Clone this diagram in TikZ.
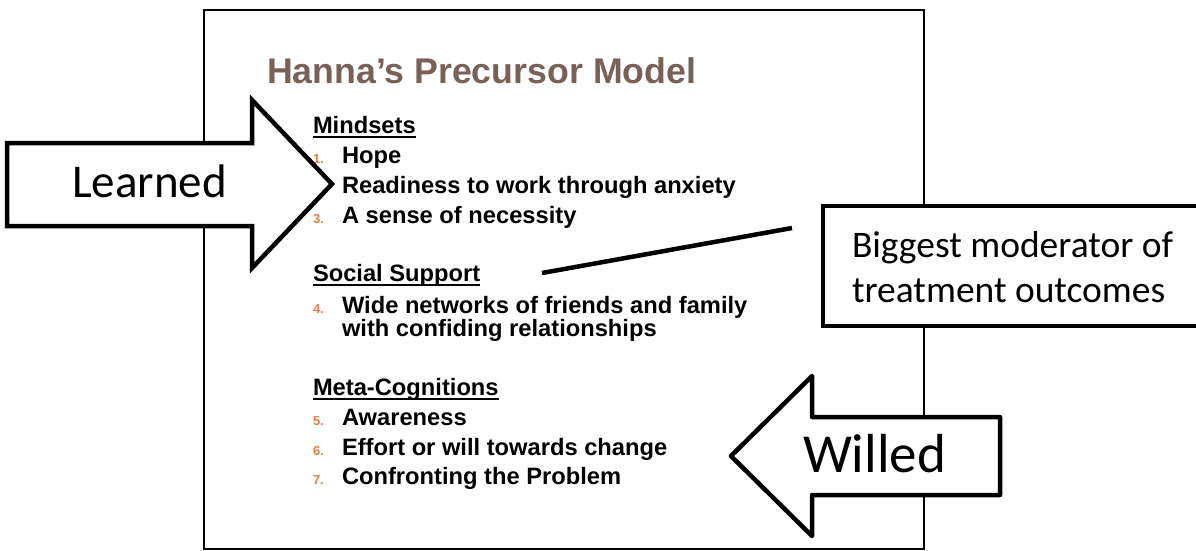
\documentclass[tikz,border=0pt]{standalone}
\usepackage{fontspec}
\setmainfont{Liberation Sans}
\newfontfamily\handfont{Carlito}
\definecolor{titlebrown}{RGB}{121,97,87}
\definecolor{numorange}{RGB}{226,128,72}
\newcommand{\ulx}[1]{\setbox0\hbox{#1}\rlap{\rule[-4.5pt]{\wd0}{2pt}}\box0}
\begin{document}
\begin{tikzpicture}[x=1pt,y=-1pt,
  every node/.style={inner sep=0pt,outer sep=0pt},
  titletxt/.style={anchor=base west,text=titlebrown,font=\fontsize{35.7}{40}\selectfont\bfseries},
  itemtxt/.style={anchor=base west,font=\fontsize{23.7}{28}\selectfont\bfseries},
  numtxt/.style={anchor=base west,text=numorange,font=\fontsize{13}{15}\selectfont\bfseries},
  handtxt/.style={anchor=base west,font=\handfont\fontsize{#1}{#1}\selectfont},
  bigarrow/.style={draw=black,fill=white,line width=4.5pt,line join=miter},
  calloutbox/.style={draw=black,fill=white,line width=4.5pt},
  framebox/.style={draw=black,line width=2pt},
  linkline/.style={draw=black,line width=4.5pt}]
\useasboundingbox (0,0) rectangle (1196,550);
% slide frame
\draw[framebox] (204,10) rectangle (924,549);
% title
\node[titletxt] (title) at (267,83) {Hanna’s Precursor Model};
% Mindsets
\node[itemtxt] (h1) at (313,133) {\ulx{Mindsets}};
\node[numtxt] (n1) at (313,163) {1.};
\node[itemtxt] (i1) at (342,163) {Hope};
\node[numtxt] (n2) at (313,193) {2.};
\node[itemtxt] (i2) at (342,193) {Readiness to work through anxiety};
\node[numtxt] (n3) at (313,223) {3.};
\node[itemtxt] (i3) at (342,223) {A sense of necessity};
% Social support
\node[itemtxt] (h2) at (313,281) {\ulx{Social Support}};
\node[numtxt] (n4) at (313,313) {4.};
\node[itemtxt] (i4a) at (342,313) {Wide networks of friends and family};
\node[itemtxt] (i4b) at (342,336) {with confiding relationships};
% Meta-cognitions
\node[itemtxt] (h3) at (313,395) {\ulx{Meta-Cognitions}};
\node[numtxt] (n5) at (313,425) {5.};
\node[itemtxt] (i5) at (342,425) {Awareness};
\node[numtxt] (n6) at (313,455) {6.};
\node[itemtxt] (i6) at (342,455) {Effort or will towards change};
\node[numtxt] (n7) at (313,484) {7.};
\node[itemtxt] (i7) at (342,484) {Confronting the Problem};
% Learned arrow
\draw[bigarrow] (7,143) -- (252,143) -- (252,100) -- (332,184) -- (252,268) -- (252,226) -- (7,226) -- cycle;
\node[handtxt=47] (learned) at (72,197) {Learned};
% Willed arrow
\draw[bigarrow,line join=round] (1000,417) -- (812,417) -- (812,376) -- (731,456) -- (812,536) -- (812,495) -- (1000,495) -- cycle;
\node[handtxt=55] (willed) at (803,472) {Willed};
% callout
\draw[calloutbox] (823,206) rectangle (1210,326);
\node[handtxt=37.5] (c1) at (852,257) {Biggest moderator of};
\node[handtxt=37.5] (c2) at (852,302) {treatment outcomes};
\coordinate (ls) at (542,273);
\coordinate (le) at (792,228);
\draw[linkline] (ls) -- (le);
\end{tikzpicture}
\end{document}
